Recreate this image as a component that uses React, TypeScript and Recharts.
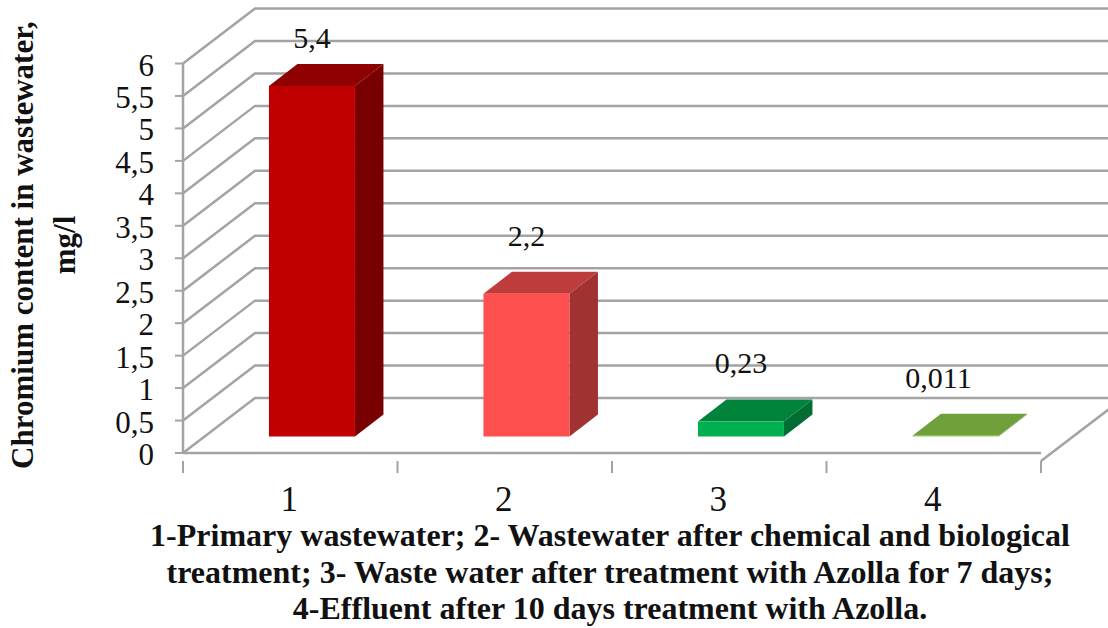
import { Bar, BarChart, CartesianGrid, LabelList, XAxis, YAxis } from 'recharts';

const categories = ['1', '2', '3', '4'];
const chromium = [5.4, 2.2, 0.23, 0.011];
const yTicks = [0, 0.5, 1, 1.5, 2, 2.5, 3, 3.5, 4, 4.5, 5, 5.5, 6];
const yTitle = ['Chromium content in wastewater,', 'mg/l'];
const xTitle = [
  '1-Primary wastewater; 2- Wastewater after chemical and biological',
  'treatment; 3- Waste water after treatment with Azolla for 7 days;',
  '4-Effluent after 10 days treatment with Azolla.',
];

const frontColors = ['#c00000', '#ff5050', '#00b050', '#92d050'];
const topColors = ['#8f0000', '#bf3c3c', '#00843c', '#70a03c'];
const sideColors = ['#780000', '#a03232', '#006e32', '#5c8a32'];

// the labels were dragged by hand in the original chart
const labelNudge = [
  { dx: 0, dy: 1 },
  { dx: 0, dy: -9 },
  { dx: 0, dy: -10 },
  { dx: -17, dy: -9 },
];

const chartData = categories.map((name, i) => ({ name, value: chromium[i] }));

const FONT = '"Liberation Serif", "Times New Roman", serif';
const GRID = '#a3a3a3';
// wall depth and where the bars sit inside it
const WALL_DX = 72;
const WALL_DY = 55;
const BAR_DX = 21.6;
const BAR_DY = 16.5;
const DEPTH_DX = 28.5;
const DEPTH_DY = 22;

const comma = (v: number) => String(v).replace('.', ',');

function WallLine({ x1, y1, x2 }: any) {
  return (
    <polyline
      points={`${x1},${y1} ${x1 + WALL_DX},${y1 - WALL_DY} ${x2 + WALL_DX},${y1 - WALL_DY}`}
      fill="none"
      stroke={GRID}
      strokeWidth={2.5}
    />
  );
}

function Bar3D({ x, y, width, height, index }: any) {
  const l = x + BAR_DX;
  const r = l + width;
  const t = y - BAR_DY;
  const b = t + height;
  return (
    <g>
      <polygon
        points={`${r},${t} ${r + DEPTH_DX},${t - DEPTH_DY} ${r + DEPTH_DX},${b - DEPTH_DY} ${r},${b}`}
        fill={sideColors[index]}
      />
      <polygon
        points={`${l},${t} ${l + DEPTH_DX},${t - DEPTH_DY} ${r + DEPTH_DX},${t - DEPTH_DY} ${r},${t}`}
        fill={topColors[index]}
      />
      <rect x={l} y={t} width={width} height={height} fill={frontColors[index]} />
    </g>
  );
}

function ValueLabel({ x, y, width, value, index }: any) {
  const nudge = labelNudge[index];
  return (
    <text
      x={x + BAR_DX + width / 2 + nudge.dx}
      y={y - BAR_DY - 39 + nudge.dy}
      textAnchor="middle"
      fontFamily={FONT}
      fontSize={30}
      fill="#111"
    >
      {comma(value)}
    </text>
  );
}

function CategoryTick({ x, y, payload, index, width, visibleTicksCount }: any) {
  const band = width / visibleTicksCount;
  const last = index === visibleTicksCount - 1;
  return (
    <g>
      <line x1={x - band / 2} y1={y} x2={x - band / 2} y2={y + 12} stroke={GRID} strokeWidth={2} />
      {last && <line x1={x + band / 2} y1={y} x2={x + band / 2} y2={y + 12} stroke={GRID} strokeWidth={2} />}
      {last && (
        <line
          x1={x + band / 2}
          y1={y}
          x2={x + band / 2 + WALL_DX}
          y2={y - WALL_DY}
          stroke={GRID}
          strokeWidth={2.5}
        />
      )}
      <text x={x - 1} y={y + 50} textAnchor="middle" fontFamily={FONT} fontSize={35} fill="#111">
        {payload.value}
      </text>
    </g>
  );
}

function YTitle() {
  return (
    <g fontFamily={FONT} fontSize={31} fontWeight="bold" fill="#111" textAnchor="middle">
      <text transform="translate(33 245) rotate(-90)">{yTitle[0]}</text>
      <text transform="translate(75 245) rotate(-90)">{yTitle[1]}</text>
    </g>
  );
}

function XTitle() {
  return (
    <g fontFamily={FONT} fontSize={32} fontWeight="bold" fill="#111" textAnchor="middle">
      {xTitle.map((line, i) => (
        <text key={line} x={610} y={546 + i * 36.5}>
          {line}
        </text>
      ))}
    </g>
  );
}

export default function App() {
  return (
    <div style={{ position: 'absolute', left: 0, top: 0 }}>
      <BarChart
        width={1108}
        height={628}
        data={chartData}
        margin={{ top: 63.5, right: 67, bottom: 0, left: 0 }}
        barCategoryGap="30%"
        style={{ overflow: 'visible' }}
      >
        <CartesianGrid horizontal={WallLine} vertical={false} />
        <XAxis
          dataKey="name"
          height={175}
          interval={0}
          tickLine={false}
          axisLine={{ stroke: GRID, strokeWidth: 2.5 }}
          tick={CategoryTick}
          label={XTitle}
        />
        <YAxis
          width={183}
          domain={[0, 6]}
          ticks={yTicks}
          interval={0}
          tickSize={8}
          tickMargin={21}
          tickFormatter={comma}
          axisLine={{ stroke: GRID, strokeWidth: 2.5 }}
          tickLine={{ stroke: GRID, strokeWidth: 2 }}
          tick={{ fontFamily: FONT, fontSize: 31, fill: '#111', dy: 1 }}
          label={YTitle}
        />
        <Bar dataKey="value" shape={Bar3D} isAnimationActive={false}>
          <LabelList dataKey="value" content={ValueLabel} />
        </Bar>
      </BarChart>
    </div>
  );
}
